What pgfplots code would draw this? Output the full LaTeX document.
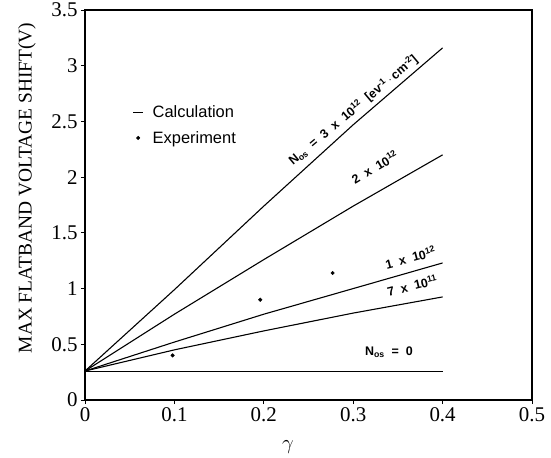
\documentclass[border=0pt]{standalone}
\usepackage{fontspec}
\setmainfont{Liberation Serif}
\newfontfamily\sans{Liberation Sans}
\usepackage{pgfplots}
\pgfplotsset{compat=1.18}
\begin{document}
\begin{tikzpicture}
\begin{axis}[
  scale only axis, width=447bp, height=390bp,
  xmin=0, xmax=0.5, ymin=0, ymax=3.5,
  xtick={0,0.1,0.2,0.3,0.4,0.5}, ytick={0,0.5,1,1.5,2,2.5,3,3.5},
  xticklabels={0,0.1,0.2,0.3,0.4,0.5},
  yticklabels={0,0.5,1,1.5,2,2.5,3,3.5},
  tick align=outside, major tick length=4bp,
  xtick pos=bottom, ytick pos=left,
  axis line style={line width=1.1pt},
  tick style={line width=0.8pt, black},
  ticklabel style={font=\fontsize{21}{21}\selectfont},
  xlabel={$\gamma$},
  xlabel style={font=\fontsize{20}{20}\selectfont, at={(rel axis cs:0.454,-0.12)}, anchor=center},
  ylabel={MAX FLATBAND VOLTAGE SHIFT(V)},
  ylabel style={font=\fontsize{19.5}{19.5}\selectfont, at={(rel axis cs:-0.13,0.544)}, anchor=center, rotate=0},
  legend style={at={(rel axis cs:0.1,0.765)}, anchor=north west, draw=none, fill=none,
    font=\sans\fontsize{16.5}{16.5}\selectfont, row sep=8bp},
  legend cell align=left,
  legend image code/.code={\draw[line width=0.9pt] (0.15cm,0cm) -- (0.5cm,0cm);},
]
\addplot[black, line width=1.1pt] coordinates {(0,0.26) (0.1,0.99) (0.2,1.74) (0.3,2.47) (0.4,3.16)};
\addlegendentry{\hspace*{7bp}Calculation}
\addplot[only marks, mark=*, mark size=1.8pt, black,
  legend image code/.code={\fill (0.32cm,0cm) circle (1.8pt);}] coordinates {(0.098,0.40) (0.196,0.90) (0.277,1.14)};
\addlegendentry{\hspace*{7bp}Experiment}
\addplot[black, line width=1.1pt, forget plot] coordinates {(0,0.26) (0.1,0.77) (0.2,1.26) (0.3,1.74) (0.4,2.20)};
\addplot[black, line width=1.1pt, forget plot] coordinates {(0,0.26) (0.1,0.52) (0.2,0.77) (0.3,1.00) (0.4,1.23)};
\addplot[black, line width=1.1pt, forget plot] coordinates {(0,0.26) (0.1,0.45) (0.2,0.62) (0.3,0.78) (0.4,0.925)};
\addplot[black, line width=0.8pt, forget plot] coordinates {(0,0.26) (0.4,0.26)};
\node[font=\sans\bfseries\fontsize{12.5}{12.5}\selectfont, rotate=40] at (axis cs:0.30,2.60) {N\textsubscript{os}\ \ =\ \ 3\ \ x\ \ 10\textsuperscript{12}\ \ [ev\textsuperscript{-1}\,$\cdot$\,cm\textsuperscript{-2}]};
\node[font=\sans\bfseries\fontsize{12.5}{12.5}\selectfont, rotate=31] at (axis cs:0.324,2.09) {2\ \ x\ \ 10\textsuperscript{12}};
\node[font=\sans\bfseries\fontsize{12.5}{12.5}\selectfont, rotate=15] at (axis cs:0.364,1.28) {1\ \ x\ \ 10\textsuperscript{12}};
\node[font=\sans\bfseries\fontsize{12.5}{12.5}\selectfont, rotate=14] at (axis cs:0.366,1.03) {7\ \ x\ \ 10\textsuperscript{11}};
\node[font=\sans\bfseries\fontsize{12.5}{12.5}\selectfont] at (axis cs:0.34,0.43) {N\textsubscript{os}\ \ =\ \ 0};
\end{axis}
\pgfresetboundingbox
\path[use as bounding box] (-85bp,-58bp) rectangle (466bp,400bp);
\end{tikzpicture}
\end{document}
